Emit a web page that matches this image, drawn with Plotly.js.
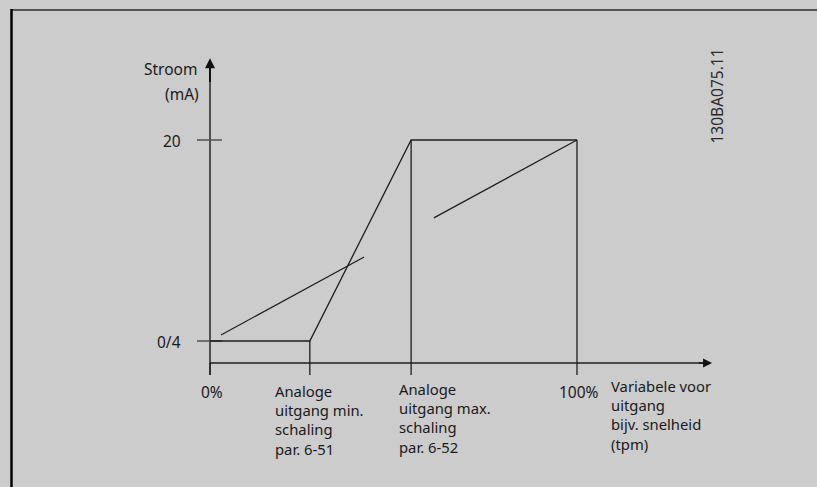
<!DOCTYPE html>
<html>
<head>
<meta charset="utf-8">
<script src="https://cdn.plot.ly/plotly-3.0.1.min.js"></script>
<style>
html,body{margin:0;padding:0;background:#cccccc;overflow:hidden;}
#chart{width:817px;height:487px;}
</style>
</head>
<body>
<div id="chart"></div>
<script>
// ---- data (x in % of output variable, y in mA) ----
const xTickPos = [0, 27.2, 54.8, 100];
const xTickLabels = [
  ['0%'],
  ['Analoge', 'uitgang min.', 'schaling', 'par. 6-51'],
  ['Analoge', 'uitgang max.', 'schaling', 'par. 6-52'],
  ['100%']
];
const xAxisTitle = ['Variabele voor', 'uitgang', 'bijv. snelheid', '(tpm)'];
const yTickVals = [4, 20];
const yTickLabels = ['0/4', '20'];
const yAxisTitle = ['Stroom', '(mA)'];
const curveX = [0, 27.2, 54.8, 100];
const curveY = [4, 4, 20, 20];
const slope1X = [3.0, 42.0];
const slope1Y = [4.48, 10.69];
const slope2X = [61.0, 100];
const slope2Y = [13.8, 20];
const docCode = '130BA075.11';

// ---- layout geometry ----
const L = 190, R = 97, T = 50, B = 20, W = 817, H = 487;
const pw = W - L - R, ph = H - T - B;
const px = p => (p - L) / pw, py = p => (H - B - p) / ph;
const xRange = [-5.4496, 138.965];
const yRange = [4 - (H - B - 341) / 12.5625, 4 + (341 - T) / 12.5625];
const yPix = p => yRange[0] + (H - B - p) / ph * (yRange[1] - yRange[0]);

const axisY = 2.25;      // where the x axis crosses
const tickBottom = 1.29; // bottom of x ticks
const yTop = 26.5;       // y axis arrow tip
const xRight = 136.8;    // x axis arrow tip
const yTickHalfL = 3.54, yTickHalfR = 3.27;

const dark = '#1e1e1e', axisCol = '#505050';
const traces = [];
function seg(x, y, color, width) {
  traces.push({x: x, y: y, type: 'scatter', mode: 'lines', hoverinfo: 'skip',
    line: {color: color, width: width}, showlegend: false});
}
seg([0, 0], [tickBottom, yTop - 0.5], axisCol, 2);
seg([0, xRight - 1.5], [axisY, axisY], dark, 1.5);
yTickVals.forEach(v => seg([-yTickHalfL, yTickHalfR], [v, v], axisCol, 1.5));
xTickPos.forEach(v => seg([v, v], [axisY, tickBottom], dark, 1.3));
seg(curveX, curveY, dark, 1.3);
seg([curveX[1], curveX[1]], [curveY[1], axisY], dark, 1.3);
seg([curveX[2], curveX[2]], [curveY[2], axisY], dark, 1.3);
seg([curveX[3], curveX[3]], [curveY[3], axisY], dark, 1.3);
seg(slope1X, slope1Y, dark, 1.2);
seg(slope2X, slope2Y, dark, 1.2);

const font = {family: 'Noto Sans, sans-serif', size: 15.5, color: '#1a1a1a'};
const fontML = {family: 'Noto Sans, sans-serif', size: 14.8, color: '#1a1a1a'};
const ann = [];
ann.push({x: 0, y: yTop, ax: 0, ay: yTop - 2, axref: 'x', ayref: 'y', xref: 'x', yref: 'y',
  showarrow: true, arrowhead: 2, arrowsize: 1.0, arrowwidth: 2, arrowcolor: '#111', text: ''});
ann.push({x: xRight, y: axisY, ax: xRight - 4, ay: axisY, axref: 'x', ayref: 'y', xref: 'x', yref: 'y',
  showarrow: true, arrowhead: 2, arrowsize: 1.2, arrowwidth: 1.5, arrowcolor: '#111', text: ''});
// y title
ann.push({x: 0, y: yPix(69), xref: 'x', yref: 'y', xanchor: 'right', yanchor: 'middle', xshift: -11,
  text: yAxisTitle[0], showarrow: false, font: font});
ann.push({x: 0, y: yPix(94), xref: 'x', yref: 'y', xanchor: 'right', yanchor: 'middle', xshift: -9,
  text: yAxisTitle[1], showarrow: false, font: font});
// y tick labels
yTickVals.forEach((v, i) => ann.push({x: 0, y: v, xref: 'x', yref: 'y', xanchor: 'right', yanchor: 'middle',
  xshift: -27, yshift: -1, text: yTickLabels[i], showarrow: false, font: font}));
// x tick labels
const xShift = [2, -37, -14, 2];
const xAnch = ['center', 'left', 'left', 'center'];
const topPix = [379, 379, 377, 379];
xTickPos.forEach((v, i) => ann.push({
  x: v, y: yPix(topPix[i]), xref: 'x', yref: 'y', xanchor: xAnch[i], yanchor: 'top', align: 'left',
  xshift: xShift[i], text: xTickLabels[i].join('<br>'), showarrow: false,
  font: xTickLabels[i].length > 1 ? fontML : font}));
// x title
ann.push({x: 100, y: yPix(374), xref: 'x', yref: 'y', xanchor: 'left', yanchor: 'top', align: 'left',
  xshift: 32, text: xAxisTitle.join('<br>'), showarrow: false, font: fontML});
// document code
ann.push({x: px(729), y: py(47), xref: 'paper', yref: 'paper', text: docCode, showarrow: false, textangle: -90,
  font: {family: 'Noto Sans, sans-serif', size: 15.5, color: '#2a2a2a'}});

const layout = {
  width: W, height: H,
  margin: {l: L, r: R, t: T, b: B, pad: 0},
  paper_bgcolor: '#cccccc', plot_bgcolor: '#cccccc',
  xaxis: {range: xRange, visible: false, fixedrange: true},
  yaxis: {range: yRange, visible: false, fixedrange: true},
  showlegend: false,
  annotations: ann,
  shapes: [
    {type: 'line', xref: 'paper', yref: 'paper', x0: px(11), x1: px(817), y0: py(10), y1: py(10),
      line: {color: '#555555', width: 2}},
    {type: 'line', xref: 'paper', yref: 'paper', x0: px(11.5), x1: px(11.5), y0: py(9), y1: py(487),
      line: {color: '#000000', width: 2.5}}
  ]
};
Plotly.newPlot('chart', traces, layout, {displayModeBar: false, staticPlot: true});
</script>
</body>
</html>
